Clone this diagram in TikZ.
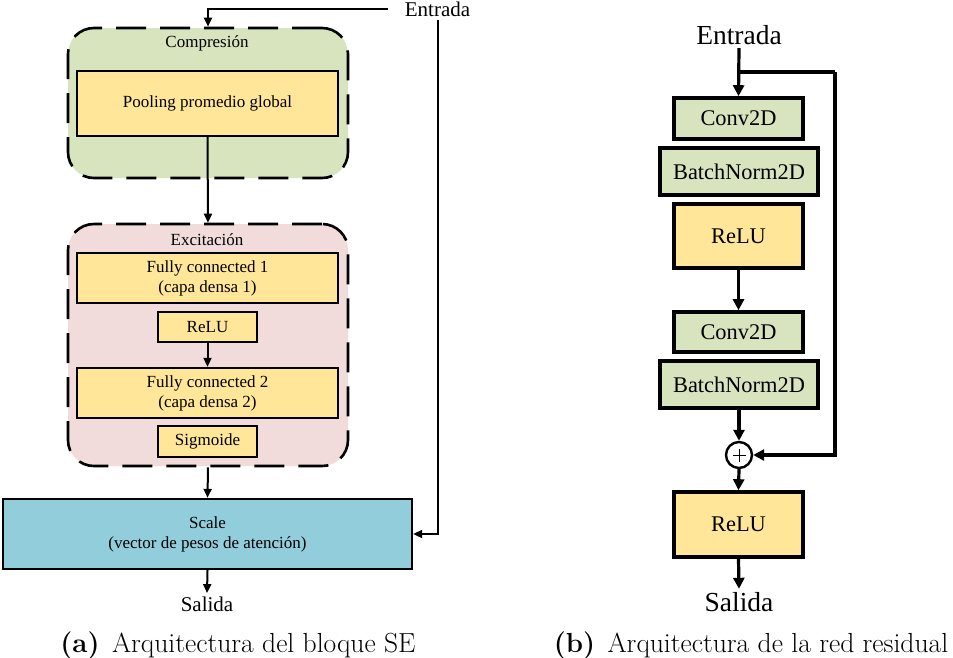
\documentclass[tikz,border=0pt]{standalone}
\usepackage{fontspec}
\newfontfamily\tnr{Liberation Serif}
\usetikzlibrary{arrows.meta}
\definecolor{yel}{HTML}{FFE699}
\definecolor{grn}{HTML}{D7E4BD}
\definecolor{pnk}{HTML}{F2DCDB}
\definecolor{blu}{HTML}{92CDDC}
\begin{document}
\begin{tikzpicture}[x=1pt,y=-1pt,
  lbox/.style={draw, line width=2.4pt, inner sep=0pt, align=center,
    font=\tnr\fontsize{17}{21}\selectfont},
  grp/.style={draw, line width=2.6pt, rounded corners=26pt, dash pattern=on 30pt off 14pt, inner sep=0pt},
  grplabel/.style={inner sep=0pt, font=\tnr\fontsize{17}{21}\selectfont},
  ltext/.style={font=\tnr\fontsize{21}{25}\selectfont},
  rbox/.style={draw, line width=3.6pt, inner sep=0pt, align=center,
    font=\tnr\fontsize{22.4}{26}\selectfont, minimum width=129pt},
  rtext/.style={font=\tnr\fontsize{27.5}{32}\selectfont},
  larr/.style={line width=2pt, -{Triangle[length=9pt,width=8pt]}},
  rarr/.style={line width=3.2pt, -{Triangle[length=11pt,width=11pt]}},
  capt/.style={anchor=base, inner sep=0pt, font=\fontsize{27.6}{32}\selectfont}
]
\useasboundingbox (0,0) rectangle (953,657);

% ---------- left: SE block ----------
\node[grp, fill=grn, minimum width=280pt, minimum height=150pt] (comp) at (208,103) {};
\node[grplabel] (compl) at (207,43) {Compresión};
\node[lbox, fill=yel, minimum width=261pt, minimum height=65pt] (pool) at (207.5,103.5) {Pooling promedio global};

\node[grp, fill=pnk, minimum width=280pt, minimum height=242pt] (exc) at (208,345) {};
\node[grplabel] (excl) at (207,240) {Excitación};
\node[lbox, fill=yel, minimum width=261pt, minimum height=50pt] (fc1) at (207.5,278) {Fully connected 1\\[-1pt](capa densa 1)};
\node[lbox, fill=yel, minimum width=99pt, minimum height=30pt] (relu1) at (207.5,327) {ReLU};
\node[lbox, fill=yel, minimum width=261pt, minimum height=50pt] (fc2) at (207.5,393) {Fully connected 2\\[-1pt](capa densa 2)};
\node[lbox, fill=yel, minimum width=99pt, minimum height=31pt] (sig) at (207.5,441.5) {Sigmoide};

\node[lbox, fill=blu, minimum width=409pt, minimum height=70pt] (scale) at (207.5,534) {Scale\\[-1pt](vector de pesos de atención)};

\node[ltext, inner xsep=17pt, inner ysep=3pt] (entL) at (437.5,9) {Entrada};
\node[ltext] (salL) at (207,604) {Salida};

\draw[larr] (entL.west) -| (comp.north);
\draw[larr] (entL.south) |- (scale.east);
\draw[larr] (pool.south) -- (exc.north);
\draw[larr] (relu1.south) -- (fc2.north);
\draw[larr] (exc.south) -- (scale.north);
\draw[larr] (scale.south) -- (salL.north);

% ---------- right: residual block ----------
\node[rtext] (entR) at (739,35) {Entrada};
\node[rbox, fill=grn, minimum height=41pt] (conv1) at (738.5,118.5) {Conv2D};
\node[rbox, fill=grn, minimum width=158pt, minimum height=47pt] (bn1) at (739,171.5) {BatchNorm2D};
\node[rbox, fill=yel, minimum height=64pt] (reluA) at (738.5,236) {ReLU};
\node[rbox, fill=grn, minimum height=40pt] (conv2) at (738.5,332) {Conv2D};
\node[rbox, fill=grn, minimum width=158pt, minimum height=47pt] (bn2) at (739,384.5) {BatchNorm2D};
\node[draw, circle, line width=2.4pt, fill=white, minimum size=26pt, inner sep=0pt] (plus) at (739,455) {};
\draw[line width=1pt] ([xshift=-6.5pt]plus.center) -- ([xshift=6.5pt]plus.center)
  ([yshift=-6.5pt]plus.center) -- ([yshift=6.5pt]plus.center);
\node[rbox, fill=yel, minimum height=65pt] (reluB) at (738.5,524.5) {ReLU};
\node[rtext] (salR) at (739,602) {Salida};

\coordinate (br) at (739,72);
\coordinate (tr) at (835,72);
\draw[rarr] (entR.south) -- (conv1.north);
\draw[line width=3.2pt] (br) -- (tr);
\draw[rarr] (tr) |- (plus.east);
\draw[rarr] (reluA.south) -- (conv2.north);
\draw[rarr] (bn2.south) -- (plus.north);
\draw[rarr] (plus.south) -- (reluB.north);
\draw[rarr] (reluB.south) -- (salR.north);

% ---------- captions ----------
\node[capt] (capA) at (238,652) {\textbf{(a)}\hspace{0.45em}Arquitectura del bloque SE};
\node[capt] (capB) at (751,652) {\textbf{(b)}\hspace{0.45em}Arquitectura de la red residual};
\end{tikzpicture}
\end{document}
